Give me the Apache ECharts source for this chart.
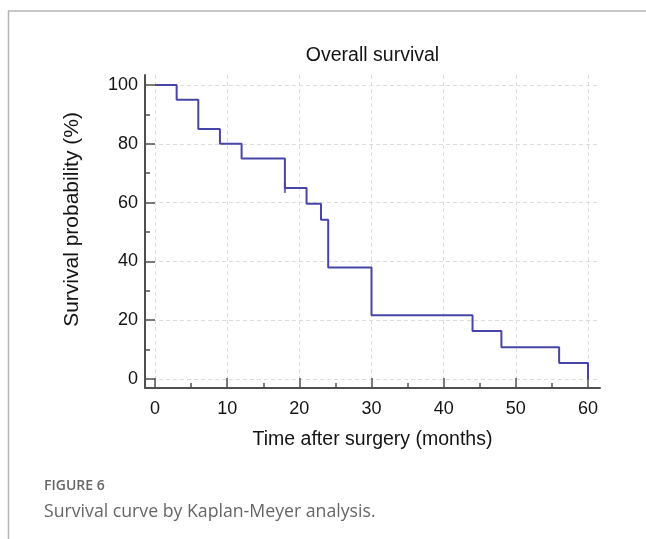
<!DOCTYPE html>
<html><head><meta charset="utf-8">
<script src="https://cdn.jsdelivr.net/npm/echarts@6/dist/echarts.min.js"></script>
<style>html,body{margin:0;padding:0;background:#fff;}#c{width:646px;height:539px;}</style>
</head><body><div id="c"></div>
<script>
// ---- data ----
const times = [0, 3, 6, 9, 12, 18, 21, 23, 24, 30, 44, 48, 56, 60];
const survival = [100, 95, 85, 80, 75, 65, 59.6, 54.2, 37.9, 21.7, 16.3, 10.8, 5.4, 0];
const censorTimes = [18];
const censorSurvival = [65];
const xTickValues = [0, 10, 20, 30, 40, 50, 60];
const yTickValues = [0, 20, 40, 60, 80, 100];
const titleText = 'Overall survival';
const xName = 'Time after surgery (months)';
const yName = 'Survival probability (%)';
const figLabel = 'FIGURE 6';
const figCaption = 'Survival curve by Kaplan-Meyer analysis.';

// ---- layout ----
const box = {l: 145, r: 600, t: 75, b: 388};   // axis frame
const area = {l: 155, r: 588, t: 85, b: 379};  // data range 0..60 x 0..100
const xMin = xTickValues[0], xMax = xTickValues[xTickValues.length - 1];
const yMin = yTickValues[0], yMax = yTickValues[yTickValues.length - 1];
const xStep = xTickValues[1] - xTickValues[0];
const yStep = yTickValues[1] - yTickValues[0];
const xPer = (xMax - xMin) / (area.r - area.l);
const yPer = (yMax - yMin) / (area.b - area.t);
const frameX = [xMin - (area.l - box.l) * xPer, xMax + (box.r - area.r) * xPer];
const frameY = [yMin - (box.b - area.b) * yPer, yMax + (area.t - box.t) * yPer];

const FONT = 'Liberation Sans, Arial, sans-serif';
const axisColor = '#505050';
const lineColor = '#4646a8';
const textColor = '#141414';

const chart = echarts.init(document.getElementById('c'), null, {renderer: 'canvas'});
chart.setOption({
  animation: false,
  backgroundColor: '#fff',
  textStyle: {fontFamily: FONT},
  grid: [
    {left: box.l, top: box.t, width: box.r - box.l, height: box.b - box.t, containLabel: false},
    {left: area.l, top: area.t, width: area.r - area.l, height: area.b - area.t, containLabel: false}
  ],
  xAxis: [
    {
      gridIndex: 0, type: 'value', min: frameX[0], max: frameX[1], splitNumber: 6,
      axisLine: {show: true, onZero: false, lineStyle: {color: axisColor, width: 2}},
      axisTick: {show: false}, axisLabel: {show: false},
      splitLine: {show: true, showMinLine: false, showMaxLine: false, lineStyle: {type: [4, 3], color: '#dcdcdc', width: 1}},
      name: xName, nameLocation: 'middle', nameGap: 42,
      nameTextStyle: {fontSize: 19.5, color: textColor, fontFamily: FONT}
    },
    {
      gridIndex: 1, type: 'value', min: xMin, max: xMax, interval: xStep, offset: box.b - area.b,
      axisLine: {show: false, onZero: false},
      axisTick: {show: true, inside: true, length: 10, lineStyle: {color: axisColor, width: 1.5}},
      minorTick: {show: true, splitNumber: 2, length: 5, lineStyle: {color: axisColor, width: 1.5}},
      axisLabel: {show: true, fontSize: 18, color: textColor, margin: 12, fontFamily: FONT},
      splitLine: {show: false}
    }
  ],
  yAxis: [
    {
      gridIndex: 0, type: 'value', min: frameY[0], max: frameY[1], splitNumber: 5,
      axisLine: {show: true, onZero: false, lineStyle: {color: axisColor, width: 2}},
      axisTick: {show: false}, axisLabel: {show: false},
      splitLine: {show: true, showMinLine: false, showMaxLine: false, lineStyle: {type: [4, 3], color: '#dcdcdc', width: 1}},
      name: yName, nameLocation: 'middle', nameGap: 62,
      nameTextStyle: {fontSize: 21, color: textColor, fontFamily: FONT, padding: [0, 0, 0, 24]}
    },
    {
      gridIndex: 1, type: 'value', min: yMin, max: yMax, interval: yStep, offset: area.l - box.l,
      axisLine: {show: false, onZero: false},
      axisTick: {show: true, inside: true, length: 10, lineStyle: {color: axisColor, width: 1.5}},
      minorTick: {show: true, splitNumber: 2, length: 5, lineStyle: {color: axisColor, width: 1.5}},
      axisLabel: {show: true, fontSize: 18, color: textColor, margin: 7, fontFamily: FONT},
      splitLine: {show: false}
    }
  ],
  series: [
    {
      type: 'line', xAxisIndex: 1, yAxisIndex: 1, step: 'end', symbol: 'none',
      lineStyle: {color: lineColor, width: 2},
      data: times.map((t, i) => [t, survival[i]]), z: 5
    },
    {
      type: 'scatter', xAxisIndex: 1, yAxisIndex: 1, symbol: 'rect', symbolSize: [2, 10],
      itemStyle: {color: lineColor},
      data: censorTimes.map((t, i) => [t, censorSurvival[i]]), z: 5
    }
  ],
  graphic: [
    {type: 'line', shape: {x1: 8, y1: 11, x2: 646, y2: 11}, style: {stroke: '#b4b4b4', lineWidth: 1.5}},
    {type: 'line', shape: {x1: 8.5, y1: 11, x2: 8.5, y2: 539}, style: {stroke: '#b4b4b4', lineWidth: 1.5}},
    {type: 'text', x: (box.l + box.r) / 2, y: 46, style: {text: titleText, fill: textColor, font: '19.5px ' + FONT, textAlign: 'center'}},
    {type: 'text', x: 44, y: 479, style: {text: figLabel, fill: '#666', font: '600 14px "Open Sans", sans-serif'}},
    {type: 'text', x: 44, y: 503, style: {text: figCaption, fill: '#666', font: '17.7px "Open Sans", sans-serif'}}
  ]
});
</script>
</body></html>
